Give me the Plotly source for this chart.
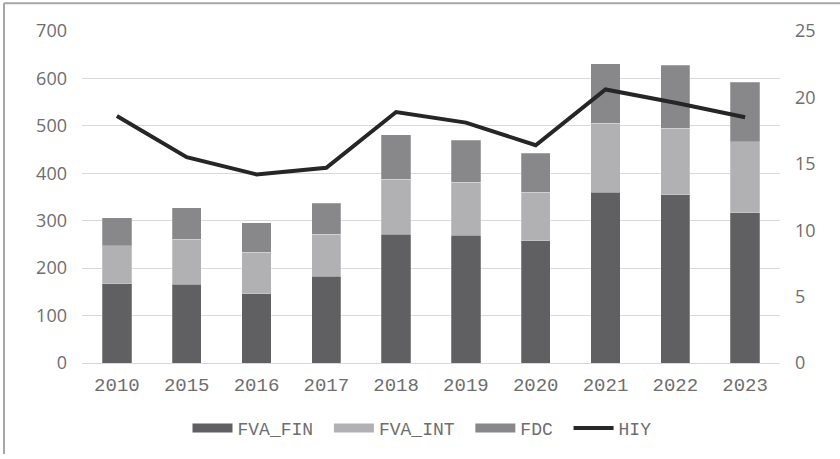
import plotly.graph_objects as go

years = ["2010", "2015", "2016", "2017", "2018", "2019", "2020", "2021", "2022", "2023"]
fva_fin = [167, 166, 146, 183, 271, 269, 258, 360, 355, 317]
fva_int = [80, 95, 87, 88, 116, 112, 102, 146, 140, 150]
fdc = [59, 66, 63, 66, 94, 89, 82, 125, 133, 125]
hiy = [18.6, 15.5, 14.2, 14.7, 18.9, 18.1, 16.4, 20.6, 19.6, 18.5]

c_fin = "#606062"
c_int = "#b1b1b3"
c_fdc = "#88888b"
c_hiy = "#262626"
c_txt = "#6e6e6e"

mono = "Liberation Mono"
sans = "Open Sans"

W, H = 840, 459
L, R, T, B = 82, 60, 31, 92
pw, ph = W - L - R, H - T - B

fig = go.Figure()

for name, vals, col in [("FVA_FIN", fva_fin, c_fin), ("FVA_INT", fva_int, c_int), ("FDC", fdc, c_fdc)]:
    fig.add_trace(go.Bar(x=years, y=vals, name=name, marker_color=col,
                         marker_line=dict(color="rgba(255,255,255,0.4)", width=0.6),
                         showlegend=False, hoverinfo="y"))

fig.add_trace(go.Scatter(x=years, y=hiy, name="HIY", mode="lines", yaxis="y2",
                         line=dict(color=c_hiy, width=4), showlegend=False))

# legend entries drawn as thick line swatches (wide rectangles like the source)
pad = "\u00a0"
for name, col, w in [("FVA_FIN" + pad, c_fin, 9), ("FVA_INT" + pad, c_int, 9),
                     ("FDC" + pad, c_fdc, 9), ("HIY", c_hiy, 4)]:
    fig.add_trace(go.Scatter(x=[None], y=[None], mode="lines", name=name,
                             line=dict(color=col, width=w), hoverinfo="skip"))

def px_x(p):
    return (p - L) / pw

def px_y(p):
    return (H - B - p) / ph

fig.update_layout(
    width=W, height=H,
    margin=dict(l=L, r=R, t=T, b=B),
    barmode="stack",
    bargap=0.58,
    plot_bgcolor="white",
    paper_bgcolor="white",
    font=dict(family=mono, color=c_txt, size=18),
    xaxis=dict(showgrid=False, showline=True, linecolor="#d9d9d9", linewidth=1,
               tickfont=dict(family=mono, size=19, color=c_txt),
               ticks="", ticklabelstandoff=4),
    yaxis=dict(range=[0, 700], dtick=100, showgrid=True, gridcolor="#d9d9d9", gridwidth=1,
               zeroline=False, showline=False,
               tickfont=dict(family=sans, size=18, color=c_txt),
               ticklabelstandoff=14),
    yaxis2=dict(range=[0, 25], dtick=5, overlaying="y", side="right", showgrid=False,
                zeroline=False, showline=False,
                tickfont=dict(family=sans, size=18, color=c_txt),
                ticklabelstandoff=14),
    legend=dict(orientation="h", traceorder="normal",
                x=px_x(422), xanchor="center", y=px_y(433), yanchor="middle",
                font=dict(family=mono, size=18, color=c_txt),
                itemwidth=40, tracegroupgap=0, bgcolor="rgba(0,0,0,0)"),
    shapes=[
        dict(type="line", xref="paper", yref="paper", x0=px_x(4), x1=px_x(W), y0=px_y(3), y1=px_y(3),
             line=dict(color="#a6a6a6", width=2)),
        dict(type="line", xref="paper", yref="paper", x0=px_x(4), x1=px_x(4), y0=px_y(3), y1=px_y(H),
             line=dict(color="#a6a6a6", width=2)),
    ],
)

fig.write_html("out.html", config={"displayModeBar": False},
               post_script="document.body.style.margin='0px';")
